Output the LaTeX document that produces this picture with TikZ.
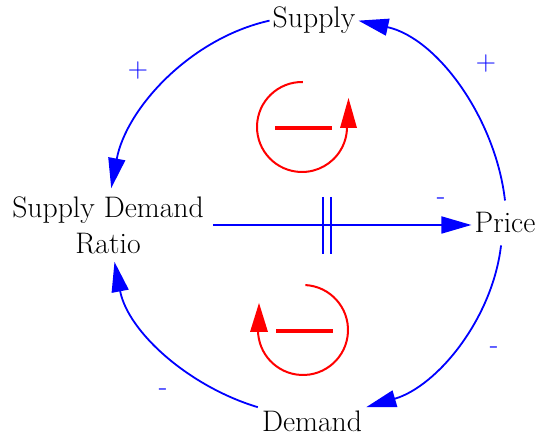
\documentclass[tikz,border=0pt]{standalone}
\usepackage{fontspec}
\usetikzlibrary{arrows.meta}
\begin{document}
\begin{tikzpicture}[x=1pt,y=1pt,
  var/.style={font=\rmfamily\fontsize{29.7}{36}\selectfont, inner sep=3pt},
  link/.style={blue, line width=1.8pt, looseness=0.9, -{Triangle[length=30pt,width=17pt]}},
  pol/.style={blue, font=\rmfamily\fontsize{28}{28}\selectfont, inner sep=0pt},
  loopline/.style={red, line width=2pt},
  loophead/.style={red},
  bar/.style={red, line width=4.5pt},
  delaymark/.style={blue, line width=1.8pt}]
\useasboundingbox (0,0) rectangle (538,438);
% variables
\node[var, anchor=base] (supply) at (314,410) {Supply};
\node[var, anchor=base, inner xsep=3pt, inner ysep=12pt] (price) at (505,205) {Price};
\node[var, anchor=base, inner sep=4pt] (demand) at (312,6) {Demand};
\node[var, align=center, inner xsep=9pt, inner ysep=8pt] (sdr) at (108,213) {Supply Demand\\Ratio};
% links
\draw[link] (sdr.east) -- (sdr.east -| price.west);
\draw[link] (price.north) to[out=96.5,in=-12.6] (supply.east);
\draw[link] (supply.west) to[out=192.6,in=79.3] (sdr.85);
\draw[link] (demand.north west) to[out=163.3,in=-79.1] (sdr.-80);
\draw[link] (price.-100) to[out=263.3,in=16.4] (demand.north east);
% delay mark
\draw[delaymark] (323,241) -- (323,184);
\draw[delaymark] (331,241) -- (331,184);
% polarities
\node[pol] (p1) at (138,367) {+};
\node[pol] (p2) at (486,374) {+};
\node[pol] (m1) at (441,237) {-};
\node[pol] (m2) at (494,88) {-};
\node[pol] (m3) at (163,46) {-};
% loop symbols
\draw[loopline] (302,311) ++(89:45) arc[start angle=89, end angle=360, radius=45];
\fill[loophead] (340,310) -- (357,310) -- (348.5,340) -- cycle;
\draw[bar] (275,310) -- (332,310);
\draw[loopline] (303,108) ++(87:45) arc[start angle=87, end angle=-180, radius=45];
\fill[loophead] (250,106) -- (268,106) -- (259,135) -- cycle;
\draw[bar] (276,107) -- (333,107);
\end{tikzpicture}
\end{document}
